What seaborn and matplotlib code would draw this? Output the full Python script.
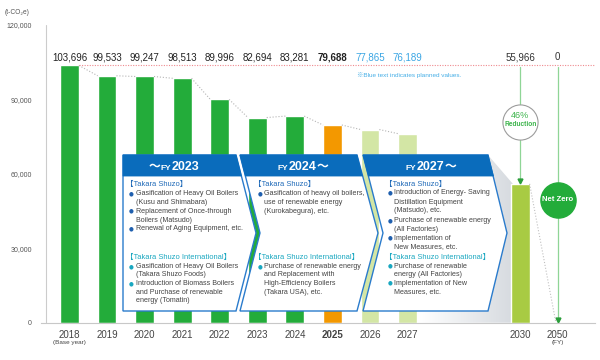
import numpy as np
import pandas as pd
import matplotlib.pyplot as plt
import seaborn as sns
from matplotlib import font_manager
from matplotlib.font_manager import FontProperties
from matplotlib.patches import Polygon
from matplotlib.colors import LinearSegmentedColormap

sns.set_style("white")
plt.rcParams['font.family'] = ['Liberation Sans', 'Noto Sans CJK JP', 'DejaVu Sans']


def has_font(name):
    try:
        font_manager.findfont(FontProperties(family=name), fallback_to_default=False)
        return True
    except ValueError:
        return False


if has_font('Liberation Sans Narrow'):
    NARROW = ['Liberation Sans Narrow', 'Noto Sans CJK JP', 'DejaVu Sans']
    BODY_SIZE, HEAD_SIZE = 5.8, 6.0
else:
    NARROW = ['Liberation Sans', 'Noto Sans CJK JP', 'DejaVu Sans']
    BODY_SIZE, HEAD_SIZE = 5.15, 5.4

# data
years = ['2018', '2019', '2020', '2021', '2022', '2023', '2024', '2025', '2026', '2027', '2030', '2050']
emissions = [103696, 99533, 99247, 98513, 89996, 82694, 83281, 79688, 77865, 76189, 55966, 0]
kind = ['actual'] * 7 + ['current', 'planned', 'planned', 'target', 'target']
slots = years[:10] + ['2028', '2029'] + years[10:]
yticks = [0, 30000, 60000, 90000, 120000]

bar_colors = {'actual': '#23ac3a', 'current': '#f39800', 'planned': '#d3e6a5', 'target': '#a8cb43'}
label_colors = {'actual': '#222222', 'current': '#222222', 'planned': '#3ba6e4', 'target': '#333333'}

box_text = [
    [('h', '【Takara Shuzo】'),
     ('b', 'Gasification of Heavy Oil Boilers'), ('c', '(Kusu and Shimabara)'),
     ('b', 'Replacement of Once-through'), ('c', 'Boilers (Matsudo)'),
     ('b', 'Renewal of Aging Equipment, etc.'),
     ('H', '【Takara Shuzo International】'),
     ('B', 'Gasification of Heavy Oil Boilers'), ('c', '(Takara Shuzo Foods)'),
     ('B', 'Introduction of Biomass Boilers'), ('c', 'and Purchase of renewable'),
     ('c', 'energy (Tomatin)')],
    [('h', '【Takara Shuzo】'),
     ('b', 'Gasification of heavy oil boilers,'), ('c', 'use of renewable energy'),
     ('c', '(Kurokabegura), etc.'),
     ('H', '【Takara Shuzo International】'),
     ('B', 'Purchase of renewable energy'), ('c', 'and Replacement with'),
     ('c', 'High-Efficiency Boilers'), ('c', '(Takara USA), etc.')],
    [('h', '【Takara Shuzo】'),
     ('b', 'Introduction of Energy- Saving'), ('c', 'Distillation Equipment'),
     ('c', '(Matsudo), etc.'),
     ('b', 'Purchase of renewable energy'), ('c', '(All Factories)'),
     ('b', 'Implementation of'), ('c', 'New Measures, etc.'),
     ('H', '【Takara Shuzo International】'),
     ('B', 'Purchase of renewable'), ('c', 'energy (All Factories)'),
     ('B', 'Implementation of New'), ('c', 'Measures, etc.')],
]
box_titles = [[('～', 8.5), ('FY', 6), ('2023', 9)],
              [('FY', 6), ('2024', 9), ('～', 8.5)],
              [('FY', 6), ('2027', 9), ('～', 8.5)]]

df = pd.DataFrame({'year': years, 'value': emissions, 'kind': kind})
palette = {y: bar_colors[k] for y, k in zip(years, kind)}
pos = [slots.index(y) for y in years]

# layout in pixels
W, H = 600, 360
AX_L, AX_R, AX_T, AX_B = 41, 595, 25, 322.7
X0, X1 = (41 - 69.5) / 37.56, (595 - 69.5) / 37.56


def dx(px):
    return X0 + (px - AX_L) / (AX_R - AX_L) * (X1 - X0)


def dy(py):
    return (AX_B - py) / (AX_B - AX_T) * 120000


def fp(pts):
    return [(x / W, 1 - y / H) for x, y in pts]


fig = plt.figure(figsize=(6, 3.6), dpi=100)
ax = fig.add_axes([AX_L / W, 1 - AX_B / H, (AX_R - AX_L) / W, (AX_B - AX_T) / H])

# grey funnel towards 2030
cmap = LinearSegmentedColormap.from_list('g', ['#ffffff', '#d6dadf'])
grad = np.linspace(0, 1, 256).reshape(1, -1)
im = ax.imshow(grad, cmap=cmap, extent=(dx(420), dx(513), 0, dy(155)), aspect='auto', zorder=0.2)
clip = Polygon([(dx(420), dy(155)), (dx(488), dy(155)), (dx(513), dy(184)), (dx(513), 0), (dx(420), 0)],
               closed=True, transform=ax.transData)
im.set_clip_path(clip)

sns.barplot(data=df, x='year', y='value', hue='year', palette=palette, order=slots,
            width=0.5, saturation=1, legend=False, ax=ax, zorder=1)

# dotted trend between bar tops
for i in range(9):
    ax.plot([pos[i] + 0.25, pos[i + 1] - 0.25], [emissions[i], emissions[i + 1]],
            ls=':', color='#b5b5b5', lw=0.8, zorder=1.5)
ax.plot([pos[10] + 0.25, pos[11] - 0.05], [emissions[10], emissions[11]], ls=':', color='#c0c0c0', lw=0.8)

# base-year reference line
ax.plot([pos[0] + 0.25, X1], [emissions[0], emissions[0]], ls=(0, (1, 1.3)), color='#ef8a8f', lw=0.8)

# value labels
for p, v, k in zip(pos, emissions, kind):
    ax.text(p, 107000, f'{v:,}', ha='center', va='center', fontsize=7, color=label_colors[k],
            fontweight='bold' if k == 'current' else 'normal')
fig.text(357 / W, 1 - 75 / H, '※Blue text indicates planned values.', fontsize=4.6,
         color='#45aee6', va='center', ha='left', family=NARROW)

# target arrows
for p, v in [(pos[10], emissions[10]), (pos[11], emissions[11])]:
    ax.plot([p, p], [emissions[0] - 800, v + 1500], color='#8fd596', lw=0.9, zorder=2)
    ax.plot([p], [v + 1200], marker='v', ms=3.5, color='#2a9d3a', zorder=2.5, clip_on=False)

ax.scatter([pos[10]], [dy(121.5)], s=640, facecolor='white', edgecolor='#9c9c9c', lw=0.8, zorder=5)
ax.text(pos[10], dy(115), '46%', ha='center', va='center', fontsize=6.5, color='#3cb44b', zorder=6)
ax.text(pos[10], dy(124.5), 'Reduction', ha='center', va='center', fontsize=4.8, color='#3cb44b',
        fontweight='bold', zorder=6, family=NARROW)
ax.scatter([pos[11]], [dy(199.5)], s=640, facecolor='#23ac3a', edgecolor='#23ac3a', zorder=5)
ax.text(pos[11], dy(199.5), 'Net Zero', ha='center', va='center', fontsize=5.6, color='white',
        fontweight='bold', zorder=6, family=NARROW)

# axes styling
ax.set_xlim(X0, X1)
ax.set_ylim(0, 120000)
ax.set_yticks(yticks)
ax.set_yticklabels([f'{t:,}' for t in yticks])
ax.set_xticks(range(len(slots)))
ax.set_xticklabels([s if s in years else '' for s in slots])
ax.get_xticklabels()[7].set_fontweight('bold')
ax.tick_params(axis='y', length=4, width=0.7, color='#b0b0b0', labelsize=5, labelcolor='#555555', pad=2.5)
ax.tick_params(axis='x', length=0, labelsize=7, labelcolor='#444444', pad=5)
ax.set_xlabel('')
ax.set_ylabel('')
for s in ['top', 'right', 'left']:
    ax.spines[s].set_visible(False)
ax.spines['bottom'].set_color('#c8c8c8')
ax.spines['bottom'].set_linewidth(0.8)
ax.plot([dx(45.7), dx(45.7)], [0, 120000], color='#cccccc', lw=0.8, clip_on=False)

ax.text(pos[0], -0.068, '(Base year)', transform=ax.get_xaxis_transform(), ha='center', va='center',
        fontsize=4.6, color='#444444', family=NARROW)
ax.text(pos[11], -0.066, '(FY)', transform=ax.get_xaxis_transform(), ha='center', va='center',
        fontsize=4.6, color='#444444', family=NARROW)
fig.text(5 / W, 1 - 12 / H, '(t-CO₂e)', fontsize=4.8, color='#555555', va='center', family=NARROW)

# measure boxes
boxes = [
    [(123, 155), (236, 155), (256, 233), (236, 311), (123, 311)],
    [(240, 155), (357, 155), (378, 233), (357, 311), (240, 311), (260, 233)],
    [(363, 155), (488, 155), (507, 233), (488, 311), (363, 311), (383, 233)],
]
headers = [
    [(123, 155), (236, 155), (241.4, 176), (123, 176)],
    [(240, 155), (357, 155), (362.4, 176), (245.4, 176)],
    [(363, 155), (488, 155), (493.4, 176), (368.4, 176)],
]
BLUE = '#0a6cbc'
for b, h in zip(boxes, headers):
    fig.add_artist(Polygon(fp(b), closed=True, transform=fig.transFigure, facecolor='white',
                           edgecolor='#2a7bcc', lw=1.0, zorder=3))
    fig.add_artist(Polygon(fp(h), closed=True, transform=fig.transFigure, facecolor=BLUE,
                           edgecolor=BLUE, lw=0.6, zorder=3.1))

# header titles, pieces laid side by side around a centre
renderer = fig.canvas.get_renderer()
for pieces, cx in zip(box_titles, [174, 303, 431]):
    texts = [fig.text(0, 1 - 170 / H, s, fontsize=fs, va='baseline', ha='left', color='white',
                      fontweight='bold', zorder=6) for s, fs in pieces]
    widths = [t.get_window_extent(renderer).width for t in texts]
    x = cx - sum(widths) / 2
    for t, w in zip(texts, widths):
        t.set_x(x / W)
        x += w

# text columns: heading x, bullet x, text x ; y rows for each section
cols = [(130, 131.5, 135.5), (258, 260.5, 264), (389, 390.5, 394)]
rows = [
    [184, 193.5, 202.3, 211.2, 220.1, 229, 257.5, 266.5, 275, 283.5, 292, 300.5],
    [184, 193.5, 202.3, 211.2, 257.5, 266.5, 275, 283.5, 292],
    [184, 193, 202, 211, 220.5, 229.3, 238, 247, 257, 266, 274.7, 283.4, 292],
]
for lines, (hx, bx, tx), ys in zip(box_text, cols, rows):
    for (k, s), y in zip(lines, ys):
        Y = 1 - y / H
        if k in 'hH':
            fig.text(hx / W - 0.006, Y, s, fontsize=HEAD_SIZE, va='center', ha='left', zorder=6,
                     family=NARROW, color='#1f6ab8' if k == 'h' else '#19a7c0')
            continue
        if k in 'bB':
            fig.text(bx / W, Y, '●', fontsize=4, va='center', ha='center', zorder=6,
                     family=['DejaVu Sans'], color='#1f5fae' if k == 'b' else '#19a7c0')
        fig.text(tx / W, Y, s, fontsize=BODY_SIZE, va='center', ha='left', zorder=6, color='#444444',
                 family=NARROW)

fig.savefig('out.png', dpi=100)
